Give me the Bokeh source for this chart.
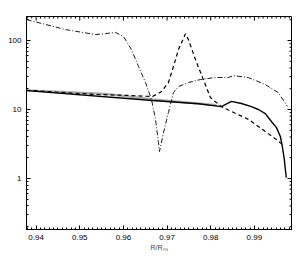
import math
from bokeh.plotting import figure
from bokeh.models import Range1d, LogTicker, SingleIntervalTicker
from bokeh.embed import file_html
from bokeh.resources import INLINE

# ---- data ----
solid_x = [0.93783, 0.96666, 0.97719, 0.98245, 0.98474, 0.98703, 0.98932, 0.99091,
           0.99251, 0.99389, 0.99503, 0.99595, 0.99640, 0.99686, 0.99709, 0.99732]
solid_y = [18.8, 13.5, 12.1, 11.0, 13.1, 12.2, 11.0, 10.0,
           8.7, 6.7, 5.5, 4.06, 2.91, 1.88, 1.35, 1.03]

gray_x = [0.93783, 0.95590, 0.96666, 0.98130]
gray_y = [19.0, 16.8, 14.0, 11.6]

dash_x = [0.93783, 0.95362, 0.96117, 0.96666, 0.96872, 0.97032, 0.97146, 0.97261,
          0.97421, 0.97490, 0.97650, 0.97833, 0.97993, 0.98130, 0.98245, 0.98474,
          0.98863, 0.99251, 0.99503, 0.99640]
dash_y = [19.0, 16.5, 16.0, 15.4, 18.2, 24.6, 42, 74,
          125, 103, 53, 27, 14.9, 12.6, 11.0, 9.35,
          7.2, 4.8, 3.67, 3.1]

dd_x = [0.93783, 0.94675, 0.95362, 0.95590, 0.95819, 0.96002, 0.96185, 0.96346,
        0.96506, 0.96643, 0.96735, 0.96803, 0.96826, 0.96918, 0.97032, 0.97146,
        0.97261, 0.97490, 0.97764, 0.98108, 0.98405, 0.98519, 0.98863, 0.99251,
        0.99549, 0.99755]
dd_y = [201, 144, 122, 126, 131, 114, 74, 42,
        24.6, 14, 7.2, 3.3, 2.46, 4.6, 9.1, 17.6,
        21.5, 24.6, 27.2, 29.1, 29.1, 31, 29, 23,
        17.5, 11.1]

x_ticks = [0.94, 0.95, 0.96, 0.97, 0.98, 0.99]
y_ticks = [1, 10, 100]

X0, X1 = 0.9378, 0.9985
Y0, Y1 = 0.182, 223
FONT = "Liberation Sans"

p = figure(width=300, height=255, y_axis_type="log",
           x_range=Range1d(X0, X1), y_range=Range1d(Y0, Y1),
           output_backend="svg", toolbar_location=None,
           min_border_left=26, min_border_right=9, min_border_top=16, min_border_bottom=26)
p.background_fill_color = "white"
p.border_fill_color = "white"
p.grid.visible = False
p.outline_line_color = "black"
p.outline_line_width = 1

p.line(gray_x, gray_y, line_color="#a8a8a8", line_width=2.2)
p.line(solid_x, solid_y, line_color="black", line_width=1.4)
p.line(dash_x, dash_y, line_color="black", line_width=1.2, line_dash="4 3")
p.line(dd_x, dd_y, line_color="black", line_width=0.9, line_dash="5 2 1 2")

p.xaxis.ticker = SingleIntervalTicker(interval=0.01, num_minor_ticks=10)
p.yaxis.ticker = LogTicker(num_minor_ticks=10)
p.yaxis.major_label_overrides = {v: str(v) for v in y_ticks}

p.xaxis.axis_label = "R/Rₙₛ"
p.xaxis.axis_label_text_font = FONT
p.xaxis.axis_label_text_font_size = "7px"
p.xaxis.axis_label_text_font_style = "normal"
p.xaxis.axis_label_standoff = 1

for ax in list(p.xaxis) + list(p.yaxis):
    ax.major_label_text_font = FONT
    ax.major_label_text_font_size = "8px"
    ax.major_label_text_color = "black"
    ax.major_tick_in = 4
    ax.major_tick_out = 0
    ax.minor_tick_in = 2
    ax.minor_tick_out = 0
    ax.major_label_standoff = 5
    ax.axis_line_color = "black"
    ax.major_tick_line_color = "black"
    ax.minor_tick_line_color = "black"

# mirrored ticks on the right and top edges (dash markers centred on the frame edge, clipped)
ry_major = [v for v in y_ticks]
ry_minor = []
for d in range(-1, 3):
    for k in range(2, 10):
        v = k * 10 ** d
        if Y0 < v < Y1:
            ry_minor.append(v)
p.scatter([X1] * len(ry_major), ry_major, marker="dash", size=8, line_color="black", line_width=1)
p.scatter([X1] * len(ry_minor), ry_minor, marker="dash", size=4, line_color="black", line_width=1)

tx_major = x_ticks
tx_minor = []
for t in x_ticks + [0.93]:
    for k in range(1, 10):
        v = round(t + k * 0.001, 4)
        if X0 < v < X1:
            tx_minor.append(v)
p.scatter(tx_major, [Y1] * len(tx_major), marker="dash", angle=math.pi / 2, size=8,
          line_color="black", line_width=1)
p.scatter(tx_minor, [Y1] * len(tx_minor), marker="dash", angle=math.pi / 2, size=4,
          line_color="black", line_width=1)

open("out.html", "w").write(file_html(p, INLINE))
